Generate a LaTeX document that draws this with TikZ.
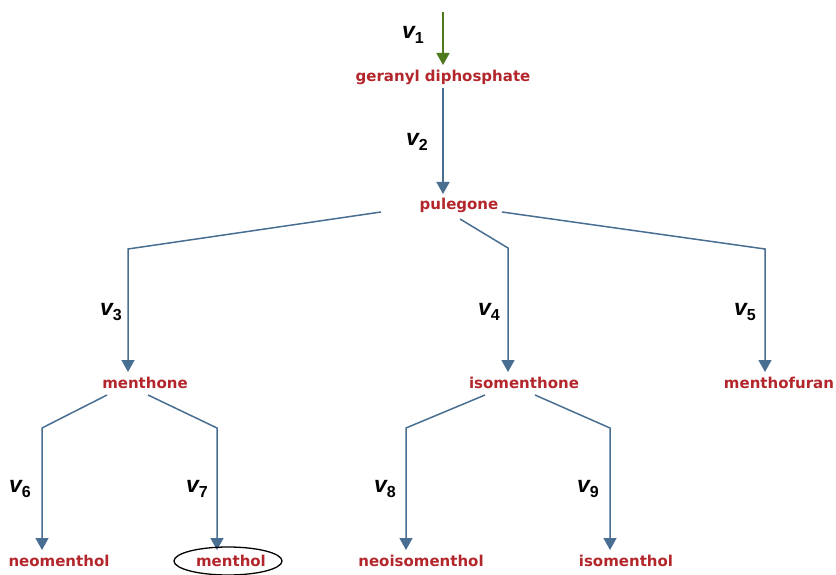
\documentclass[tikz,border=0pt]{standalone}
\usepackage{fontspec}
\setmainfont{DejaVu Sans}
\newfontfamily\labfont{Liberation Sans}
\usetikzlibrary{arrows.meta}
\definecolor{metred}{RGB}{178,38,44}
\definecolor{flowblue}{RGB}{72,110,145}
\definecolor{flowgreen}{RGB}{78,120,28}
\tikzset{
  met/.style={text=metred, font=\fontsize{15}{15}\selectfont\bfseries, inner sep=0pt, text height=11pt, text depth=3pt},
  flow/.style={draw=flowblue, line width=1.5pt, -{Triangle[width=13pt,length=12pt]}},
  flowg/.style={draw=flowgreen, line width=1.5pt, -{Triangle[width=13pt,length=12pt]}},
  vlab/.style={inner sep=0pt}
}
\newcommand{\vv}[1]{{\labfont\fontsize{23}{23}\selectfont\bfseries\itshape v}\raisebox{-5pt}{\labfont\fontsize{16}{16}\selectfont\bfseries #1}}
\begin{document}
\begin{tikzpicture}[x=1pt,y=-1pt]
\useasboundingbox (0,0) rectangle (836,575);
% metabolites
\node[met] (gdp) at (443,78) {geranyl diphosphate};
\node[met] (pul) at (459,206) {pulegone};
\node[met] (mone) at (145,384) {menthone};
\node[met] (imone) at (524,384) {isomenthone};
\node[met] (mfur) at (779,384) {menthofuran};
\node[met] (nmol) at (59,562) {neomenthol};
\node[met] (mol) at (231,562) {menthol};
\node[met] (nimol) at (421,562) {neoisomenthol};
\node[met] (imol) at (626,562) {isomenthol};
% connector points
\coordinate (top) at (443,12);
\coordinate (t1) at (443,65);
\coordinate (s2) at (443,88);
\coordinate (t2) at (443,194);
\coordinate (s3) at (381,212);
\coordinate (b3) at (128,249);
\coordinate (t3) at (128,372);
\coordinate (s4) at (460,219);
\coordinate (b4) at (508,248);
\coordinate (t4) at (508,372);
\coordinate (s5) at (502,212);
\coordinate (b5) at (765,249);
\coordinate (t5) at (765,372);
\coordinate (s6) at (107,395);
\coordinate (b6) at (42,428);
\coordinate (t6) at (42,550);
\coordinate (s7) at (148,395);
\coordinate (b7) at (217,428);
\coordinate (t7) at (217,550);
\coordinate (s8) at (485,395);
\coordinate (b8) at (406,428);
\coordinate (t8) at (406,550);
\coordinate (s9) at (535,395);
\coordinate (b9) at (610,428);
\coordinate (t9) at (610,550);
% connectors
\draw[flowg] (top) -- (t1);
\draw[flow] (s2) -- (t2);
\draw[flow] (s3) -- (b3) -- (t3);
\draw[flow] (s4) -- (b4) -- (t4);
\draw[flow] (s5) -- (b5) -- (t5);
\draw[flow] (s6) -- (b6) -- (t6);
\draw[flow] (s7) -- (b7) -- (t7);
\draw[flow] (s8) -- (b8) -- (t8);
\draw[flow] (s9) -- (b9) -- (t9);
% highlight
\draw[line width=1.3pt] ([xshift=-3pt,yshift=1pt]mol.center) ellipse [x radius=54, y radius=14];
% labels
\node[vlab] (v1) at (413,35) {\vv{1}};
\node[vlab] (v2) at (417,142) {\vv{2}};
\node[vlab] (v3) at (111,312) {\vv{3}};
\node[vlab] (v4) at (489,312) {\vv{4}};
\node[vlab] (v5) at (745,312) {\vv{5}};
\node[vlab] (v6) at (20,489) {\vv{6}};
\node[vlab] (v7) at (197,489) {\vv{7}};
\node[vlab] (v8) at (385,489) {\vv{8}};
\node[vlab] (v9) at (588,489) {\vv{9}};
\end{tikzpicture}
\end{document}
